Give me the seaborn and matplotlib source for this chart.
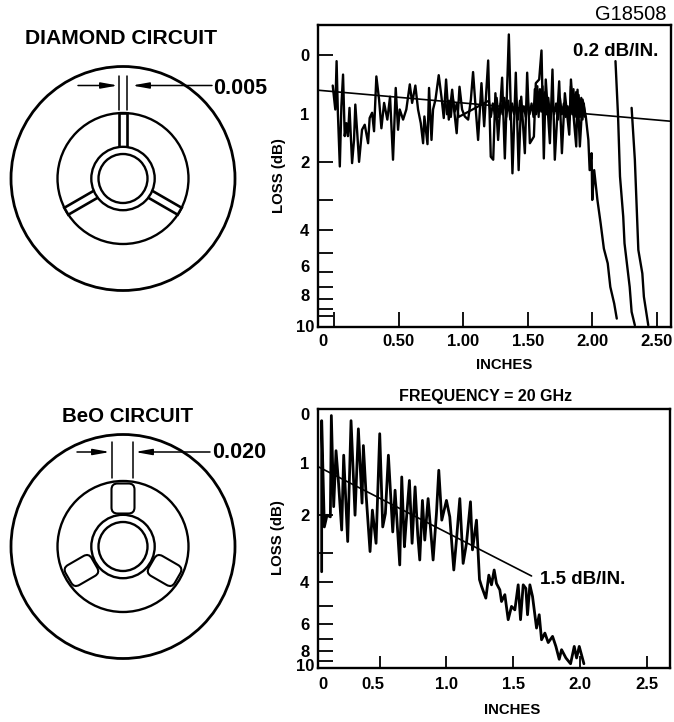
import numpy as np
import matplotlib
matplotlib.use("Agg")
import matplotlib.pyplot as plt
from matplotlib.patches import Circle, Rectangle, FancyBboxPatch
from matplotlib.transforms import Affine2D, ScaledTranslation
import seaborn as sns

# ---------- data (inches, dB) ----------
diamond_x = [-.01,.01,.02,.03,.045,.057,.07,.083,.096,.108,.12,.14,.155,.165,.18,.194,.217,.238,.264,.276,.295,.31,.328,.349,.367,.388,.413,.434,.457,.478,.496,.509,.535,.56,.587,.605,.63,.651,.672,.69,
             .70,.724,.736,.755,.767,.786,.811,.832,.85,.868,.889,.915,.93,.95,.972,.992,1.013,1.039,1.06,1.077,1.096,1.116,1.142,1.163,1.194,1.214,1.233,1.25,1.271,1.302,1.323,1.354,1.382,1.408,1.43,1.45,1.478,1.496,1.517,1.548,1.563,1.589,1.607,1.625,1.64,1.672,1.692,1.71,1.744,1.765,1.788,1.822,1.835,1.853,1.876,1.886,1.904,1.925,1.95,1.97,1.98,1.995,2.00,2.015,2.04,2.065,2.09,2.12,2.14,2.17,2.19]
diamond_db = [.49,.91,.10,.97,2.11,.85,.31,1.43,1.17,1.43,.88,2.03,1.51,.82,1.37,2.0,1.30,1.20,1.58,1.07,.97,1.33,.34,.73,1.27,.79,1.10,.68,1.95,.53,1.30,.91,1.10,.91,.47,.79,.49,.91,1.17,1.58,
              1.04,1.60,.53,1.51,.91,.73,.32,.68,1.07,.39,1.10,.56,.91,1.37,.51,.91,1.04,1.10,.73,.27,.85,1.51,.45,1.23,.09,1.88,1.95,.62,1.51,.36,1.92,-.29,2.28,.28,2.20,.68,1.80,.28,1.58,1.44,.45,.39,-.06,1.92,.39,1.58,.23,1.95,.42,1.80,.62,1.40,.39,.97,1.65,.56,1.65,.73,1.04,1.51,2.20,1.80,3.01,2.20,3.01,3.77,4.78,5.50,6.97,8.42,10.36]
ripple_top_x = [.86,.875,.89,.905,.92,.935,.95,.965,1.20,1.215,1.23,1.245,1.26,1.275,1.29,1.305,1.32,1.335,1.35,1.365,1.38,1.395,1.41,1.425,1.44,1.455,1.47,1.485,1.50,1.515,1.53,1.545,1.555,1.565,1.575,1.585,1.595,1.605,1.615,1.625,1.635,1.645,1.66,1.675,1.69,1.705,1.72,1.735,1.75,1.765,1.78,1.795,1.81,1.825,1.835,1.845,1.855,1.865,1.875,1.885,1.895,1.905,1.915,1.925,1.935,1.945]
ripple_top_db = [.7,1.0,.75,1.05,.7,.95,.8,1.05,.75,1.05,.8,1.0,.7,1.05,.8,1.0,.7,1.05,.75,1.1,.8,1.0,.7,1.1,.75,1.0,.85,1.05,.75,1.0,.8,1.05,.55,1.0,.5,1.05,.55,.95,.5,1.1,.6,1.0,.7,1.1,.75,1.0,.8,1.1,.7,1.0,.8,1.05,.85,1.1,.5,1.0,.55,1.05,.6,1.1,.65,1.05,.7,1.1,.8,1.05]
taper1_x = [2.18,2.20,2.215,2.24,2.25,2.29,2.305,2.33]
taper1_db = [.10,1.04,2.36,3.54,4.55,6.97,9.39,11.6]
taper2_x = [2.305,2.33,2.357,2.388,2.40,2.434]
taper2_db = [.88,1.95,4.84,6.07,7.77,11.6]
fit_top_x = [-.116,2.60]
fit_top_db = [.57,1.13]

beo_x = [.065,.065,.085,.105,.13,.1375,.155,.1725,.19,.215,.23,.26,.285,.315,.34,.3675,.3775,.3975,.4275,.445,.4725,.50,.5225,.5425,.565,.5975,.615,.65,.665,.685,.6975,.7225,.7425,.765,.785,.80,.82,.8375,.8625,.90,.925,.9425,.965,1.00,1.025,1.055,1.075,1.10,1.125,1.15,1.18,1.195,1.225,1.2475,1.2625,1.295,1.3175,1.3375,1.3575,1.375,1.40,1.4125,1.4375,1.4625,1.4875,1.5125,1.5375,1.555,1.575,1.595,1.6075,1.625,1.645,1.675,1.695,1.7125,1.7375,1.7625,1.795,1.82,1.845,1.8625,1.895,1.93,1.9575,1.975,1.995,2.03]
beo_db = [3.62,.18,2.29,2.0,2.04,.10,1.8,.68,1.24,2.37,.76,2.68,.18,2.0,.31,1.72,.59,1.52,2.97,1.88,2.73,.39,2.29,1.96,.76,2.42,1.44,3.39,1.17,2.83,2.2,1.24,2.73,1.37,2.5,3.23,1.66,2.64,1.62,3.23,1.96,1.04,2.12,1.66,2.04,3.56,2.64,1.62,3.34,2.73,1.69,2.92,2.12,3.9,4.15,4.65,3.74,4.10,3.56,4.05,4.3,4.8,4.5,5.72,5.03,5.2,4.10,5.72,4.10,4.24,5.45,4.10,4.58,6.22,5.45,7.03,6.55,7.25,6.78,7.57,8.85,7.86,8.70,9.4,7.57,8.70,7.57,9.4]
fit_bot_x = [.0375,1.6375]
fit_bot_db = [.97,3.77]

x_ticks_top = [0,.5,1,1.5,2,2.5]
x_labels_top = ["0","0.50","1.00","1.50","2.00","2.50"]
x_ticks_bot = [.075,.5,1,1.5,2,2.5]
x_labels_bot = ["0","0.5","1.0","1.5","2.0","2.5"]
y_major = [0,1,2,4,6,8,10]
y_minor = [3,5,7,9]

FONT = "Liberation Sans"
sns.set_style("ticks")
plt.rcParams["font.family"] = FONT
plt.rcParams["text.color"] = "black"
plt.rcParams["axes.labelcolor"] = "black"

fig = plt.figure(figsize=(6.74,7.22), dpi=100, facecolor="white")

def to_scale(d):
    return -10.0**(-np.asarray(d, dtype=float)/10)
def from_scale(v):
    return -10*np.log10(np.maximum(-np.asarray(v, dtype=float), 1e-6))

def axes_px(l, t, r, b):
    return fig.add_axes([l/674, 1-b/722, (r-l)/674, (b-t)/722], facecolor="white")

def shift(label, dx=0, dy=0):
    label.set_transform(label.get_transform()+ScaledTranslation(dx/100, -dy/100, fig.dpi_scale_trans))

def finish(ax, xlim, ylim, xt, xl, xlen, xpad, yoff):
    ax.set_yscale("function", functions=(to_scale, from_scale))
    ax.set_xlim(*xlim); ax.set_ylim(*ylim)
    ax.set_xticks(xt); ax.set_xticklabels(xl, fontsize=12, fontweight="bold")
    ax.set_yticks(y_major); ax.set_yticklabels([str(v) for v in y_major], fontsize=12, fontweight="bold", ha="center")
    ax.set_yticks(y_minor, minor=True)
    ax.tick_params(axis="x", direction="in", length=xlen, width=1.3, pad=xpad, color="black", labelcolor="black")
    ax.tick_params(axis="y", which="both", direction="in", length=11, width=1.3, pad=9.5, color="black", labelcolor="black")
    for s in ax.spines.values():
        s.set_visible(True); s.set_linewidth(1.7); s.set_color("black")
    ticks = ax.yaxis.get_major_ticks()
    ticks[1].tick1line.set_visible(False)
    for t, dy in zip(ticks, yoff):
        shift(t.label1, 0, dy)

# ---------- top chart ----------
ax1 = axes_px(318,25,671,327)
for xs, ys, lw in [(diamond_x,diamond_db,1.7),(ripple_top_x,ripple_top_db,1.6),(taper1_x,taper1_db,1.7),(taper2_x,taper2_db,1.7),(fit_top_x,fit_top_db,1.2)]:
    sns.lineplot(x=xs, y=ys, sort=False, estimator=None, color="black", lw=lw, ax=ax1)
finish(ax1, (-.124,2.61), (12.0,-.42), x_ticks_top, x_labels_top, 11, 5, [0,0,0,0,-6,-4,10])
shift(ax1.xaxis.get_major_ticks()[0].label1, -11, 0)
ax1.set_xlabel("INCHES", fontsize=10.7, fontweight="bold", va="center")
ax1.xaxis.set_label_coords(.527,-.126)
ax1.set_ylabel("LOSS (dB)", fontsize=10.8, fontweight="bold", va="center")
ax1.yaxis.set_label_coords(-.11,.5)
ax1.text((573-318)/353,(327-52)/302,"0.2 dB/IN.",transform=ax1.transAxes,fontsize=13.5,fontweight="bold",va="center",ha="left")

# ---------- bottom chart ----------
ax2 = axes_px(318,409,670,668)
for xs, ys, lw in [(beo_x,beo_db,2.0),(fit_bot_x,fit_bot_db,1.2)]:
    sns.lineplot(x=xs, y=ys, sort=False, estimator=None, color="black", lw=lw, ax=ax2)
finish(ax2, (.0375,2.675), (9.99,.015), x_ticks_bot, x_labels_bot, 9, 6.5, [5,-5,0,0,0,0,-3])
xt2 = ax2.xaxis.get_major_ticks()
xt2[0].tick1line.set_visible(False)
shift(xt2[1].label1, -7, 0)
ax2.set_xlabel("INCHES", fontsize=10.7, fontweight="bold", va="center")
ax2.xaxis.set_label_coords(.551,-.162)
ax2.set_ylabel("LOSS (dB)", fontsize=10.8, fontweight="bold", va="center")
ax2.yaxis.set_label_coords(-.114,.502)
ax2.text((540-318)/352,(668-579)/259,"1.5 dB/IN.",transform=ax2.transAxes,fontsize=13.5,fontweight="bold",va="center",ha="left")

# ---------- schematic layer, in pixels ----------
ov = fig.add_axes([0,0,1,1], zorder=-1)
ov.set_xlim(0,674); ov.set_ylim(722,0); ov.axis("off")

def rings(cy, cx=123):
    for r, lw in [(112,2.0),(65.5,1.7),(31.7,1.7),(24.5,1.7)]:
        ov.add_patch(Circle((cx,cy), r, fill=r==31.7, fc="white", ec="black", lw=lw, zorder=3 if r<40 else 1))

def dimension(cy_arrow, xl_from, xl_to, xr_from, xr_to):
    style = "-|>,head_length=1.0,head_width=0.18"
    for a, b in [(xl_from,xl_to),(xr_from,xr_to)]:
        ov.annotate("", xy=(b,cy_arrow), xytext=(a,cy_arrow),
                    arrowprops=dict(arrowstyle=style, color="black", lw=1.1, shrinkA=0, shrinkB=0))

# diamond
cy = 178.5
for ang in (0,120,240):
    ov.add_patch(Rectangle((119,cy-65.5),8,36, fc="white", ec="black", lw=1.9, zorder=2,
                           transform=Affine2D().rotate_deg_around(123,cy,ang)+ov.transData))
rings(cy)
ov.plot([119,119],[76,110],color="black",lw=1.1); ov.plot([127.3,127.3],[76,110],color="black",lw=1.1)
dimension(85.5,78,118,212,132)
ov.text(213,88,"0.005",fontsize=15.5,fontweight="bold",va="center",ha="left")
ov.text(25,39,"DIAMOND CIRCUIT",fontsize=15.2,fontweight="bold",va="center",ha="left")

# BeO
cy = 546.5
for ang in (0,120,240):
    ov.add_patch(FancyBboxPatch((111.5,cy-63),23,30,boxstyle="round,pad=0,rounding_size=6",fc="white",ec="black",lw=1.5,zorder=2,
                                transform=Affine2D().rotate_deg_around(123,cy,ang)+ov.transData))
rings(cy)
ov.plot([111.7,111.7],[442,478],color="black",lw=1.1); ov.plot([133.3,133.3],[442,478],color="black",lw=1.1)
dimension(452,77,110,210,135)
ov.text(212,453,"0.020",fontsize=15.5,fontweight="bold",va="center",ha="left")
ov.text(62,416,"BeO CIRCUIT",fontsize=14.8,fontweight="bold",va="center",ha="left")

# free labels
ov.text(667,15,"G18508",fontsize=14.5,va="center",ha="right")
ov.text(486,396,"FREQUENCY = 20 GHz",fontsize=11.5,fontweight="bold",va="center",ha="center")

fig.savefig("out.png", dpi=100, facecolor="white")
